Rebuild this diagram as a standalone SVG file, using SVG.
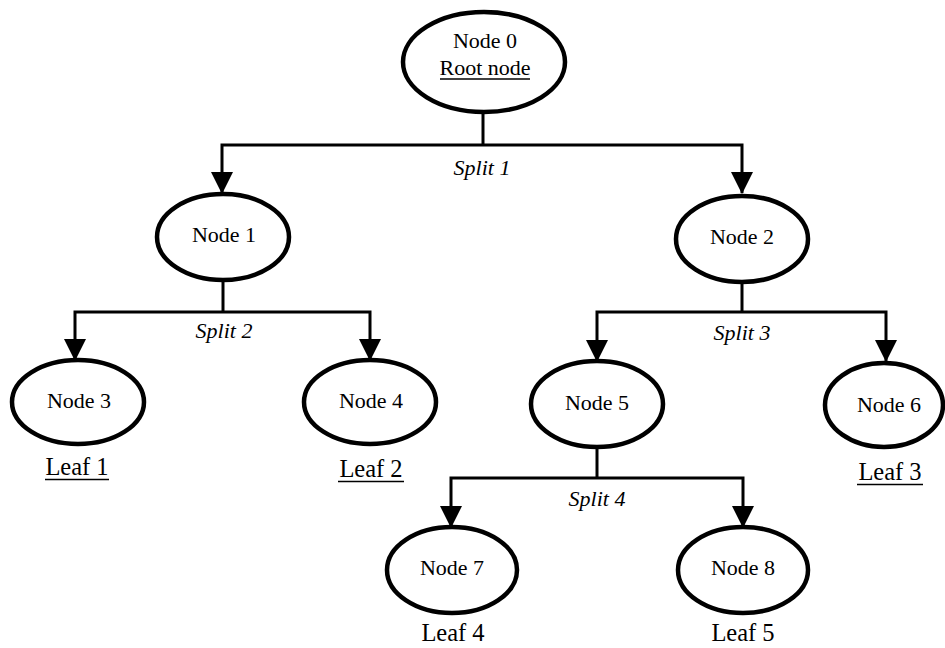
<svg xmlns="http://www.w3.org/2000/svg" width="945" height="648" viewBox="0 0 945 648">
  <style>
    text { font-family: "Liberation Serif", "Times New Roman", serif; fill: #000; text-anchor: middle; }
    .node ellipse { fill: #fff; stroke: #000; stroke-width: 4.5; }
    .node text { font-size: 22px; }
    .leaf { font-size: 24.5px; }
    .split { font-style: italic; font-size: 22px; }
    .edge { fill: none; stroke: #000; stroke-width: 3; }
    .arrow { marker-end: url(#head); }
    .ul { stroke: #000; stroke-width: 1.6; }
  </style>
  <defs>
    <marker id="head" viewBox="0 0 22 22" markerWidth="22" markerHeight="22" markerUnits="userSpaceOnUse" refX="21" refY="11" orient="auto">
      <path d="M0,0 L22,11 L0,22 z" fill="#000"/>
    </marker>
  </defs>

  <!-- connectors: trunk from parent, then elbow branches with arrowheads -->
  <g id="connectors">
    <path class="edge" d="M483,113 V145"/>
    <path class="edge arrow" d="M483,145 H222 V193"/>
    <path class="edge arrow" d="M483,145 H742 V193"/>

    <path class="edge" d="M223,280 V312"/>
    <path class="edge arrow" d="M223,312 H75 V360"/>
    <path class="edge arrow" d="M223,312 H370 V360"/>

    <path class="edge" d="M742,282 V312"/>
    <path class="edge arrow" d="M742,312 H597 V361"/>
    <path class="edge arrow" d="M742,312 H886 V361"/>

    <path class="edge" d="M597,447 V478"/>
    <path class="edge arrow" d="M597,478 H451 V527"/>
    <path class="edge arrow" d="M597,478 H743 V527"/>

    <text class="split" x="482" y="175">Split 1</text>
    <text class="split" x="224" y="338">Split 2</text>
    <text class="split" x="742" y="340">Split 3</text>
    <text class="split" x="597" y="506">Split 4</text>
  </g>

  <!-- nodes -->
  <g id="node0" class="node">
    <ellipse cx="484" cy="62" rx="81" ry="50"/>
    <text x="485" y="48">Node 0</text>
    <text x="485" y="75">Root node</text>
    <line class="ul" x1="440" y1="79" x2="530" y2="79"/>
  </g>
  <g id="node1" class="node">
    <ellipse cx="223" cy="237" rx="66" ry="43"/>
    <text x="224" y="242">Node 1</text>
  </g>
  <g id="node2" class="node">
    <ellipse cx="742" cy="239" rx="66" ry="43"/>
    <text x="742" y="244">Node 2</text>
  </g>
  <g id="node3" class="node">
    <ellipse cx="78" cy="402" rx="66" ry="42"/>
    <text x="79" y="408">Node 3</text>
  </g>
  <g id="node4" class="node">
    <ellipse cx="370" cy="402" rx="66" ry="42"/>
    <text x="371" y="408">Node 4</text>
  </g>
  <g id="node5" class="node">
    <ellipse cx="597" cy="404" rx="66" ry="43"/>
    <text x="597" y="410">Node 5</text>
  </g>
  <g id="node6" class="node">
    <ellipse cx="884" cy="405" rx="59" ry="42"/>
    <text x="889" y="412">Node 6</text>
  </g>
  <g id="node7" class="node">
    <ellipse cx="452" cy="570" rx="65" ry="43"/>
    <text x="452" y="575">Node 7</text>
  </g>
  <g id="node8" class="node">
    <ellipse cx="743" cy="570" rx="65" ry="43"/>
    <text x="743" y="575">Node 8</text>
  </g>

  <!-- leaf labels -->
  <g id="leaves">
    <text class="leaf" x="77" y="475">Leaf 1</text>
    <line class="ul" x1="45" y1="479.5" x2="109" y2="479.5"/>
    <text class="leaf" x="371" y="477">Leaf 2</text>
    <line class="ul" x1="338" y1="481.5" x2="404" y2="481.5"/>
    <text class="leaf" x="890" y="480">Leaf 3</text>
    <line class="ul" x1="857" y1="484.5" x2="923" y2="484.5"/>
    <text class="leaf" x="453" y="641">Leaf 4</text>
    <text class="leaf" x="743" y="641">Leaf 5</text>
  </g>
</svg>
